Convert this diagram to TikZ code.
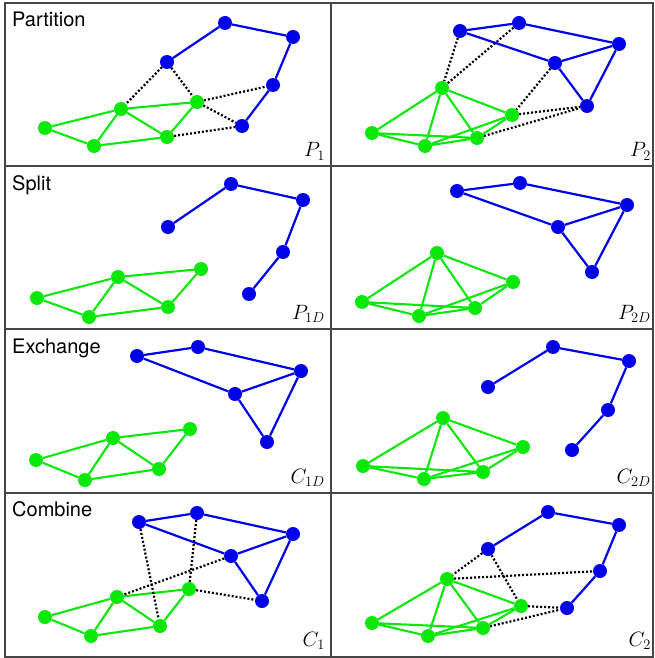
\documentclass[tikz,border=0pt]{standalone}
\usepackage{fontspec}
\usepackage{tikz}
\usetikzlibrary{positioning}
\newfontfamily\panelfont{TeX Gyre Heros}
\definecolor{partblue}{RGB}{0,0,235}
\definecolor{partgreen}{RGB}{10,232,10}
\definecolor{gridgray}{RGB}{70,70,70}

\begin{document}
\begin{tikzpicture}[
  x=1pt, y=-1pt,
  bdot/.style={circle, fill=partblue, inner sep=0pt, minimum size=14pt},
  gdot/.style={circle, fill=partgreen, inner sep=0pt, minimum size=14pt},
  bedge/.style={draw=partblue, line width=2.2pt},
  gedge/.style={draw=partgreen, line width=2.1pt},
  cut/.style={draw=black, line width=2.2pt, dash pattern=on 2pt off 2pt},
  grid line/.style={draw=gridgray, line width=1.2pt},
  title/.style={anchor=base west, inner sep=0pt, font=\panelfont\fontsize{20}{24}\selectfont},
  tag/.style={anchor=base east, inner sep=0pt, font=\fontsize{21}{25}\selectfont}
]
  \useasboundingbox (0,0) rectangle (654,658);

  % frame
  \draw[grid line] (5,3) rectangle (653,657);
  \draw[grid line] (331,3) -- (331,657);
  \draw[grid line] (5,166) -- (653,166);
  \draw[grid line] (5,329) -- (653,329);
  \draw[grid line] (5,493) -- (653,493);

  % titles and tags
  \node[title] (tpart) at (12,27) {Partition};
  \node[title] (tsplit) at (12,190) {Split};
  \node[title] (texch) at (12,353) {Exchange};
  \node[title] (tcomb) at (12,516) {Combine};
  \node[tag] (lp1) at (325,157) {$P_1$};
  \node[tag] (lp2) at (651,157) {$P_2$};
  \node[tag] (lp1d) at (325,319) {$P_{1D}$};
  \node[tag] (lp2d) at (651,319) {$P_{2D}$};
  \node[tag] (lc1d) at (325,483) {$C_{1D}$};
  \node[tag] (lc2d) at (651,483) {$C_{2D}$};
  \node[tag] (lc1) at (325,646) {$C_1$};
  \node[tag] (lc2) at (651,646) {$C_2$};

  % P1
  \node[bdot] (pab1) at (167,62) {};
  \node[bdot] (pab2) at (225,23) {};
  \node[bdot] (pab3) at (293,37) {};
  \node[bdot] (pab4) at (273,85) {};
  \node[bdot] (pab5) at (242,126) {};
  \node[gdot] (pag1) at (45,128) {};
  \node[gdot] (pag2) at (94,146) {};
  \node[gdot] (pag3) at (121,109) {};
  \node[gdot] (pag4) at (167,137) {};
  \node[gdot] (pag5) at (197,102) {};
  \draw[bedge] (pab1) -- (pab2) -- (pab3) -- (pab4) -- (pab5);
  \draw[gedge] (pag1) -- (pag3) -- (pag5) -- (pag4) -- (pag2) -- (pag1);
  \draw[gedge] (pag2) -- (pag3) -- (pag4);
  \draw[cut] (pab1) -- (pag3);
  \draw[cut] (pab1) -- (pag5);
  \draw[cut] (pag5) -- (pab4);
  \draw[cut] (pag5) -- (pab5);
  \draw[cut] (pag4) -- (pab5);

  % P2
  \node[bdot] (pbb1) at (460,31) {};
  \node[bdot] (pbb2) at (519,23) {};
  \node[bdot] (pbb3) at (619,44) {};
  \node[bdot] (pbb4) at (555,63) {};
  \node[bdot] (pbb5) at (587,106) {};
  \node[gdot] (pbg1) at (442,88) {};
  \node[gdot] (pbg2) at (512,115) {};
  \node[gdot] (pbg3) at (372,133) {};
  \node[gdot] (pbg4) at (425,146) {};
  \node[gdot] (pbg5) at (477,138) {};
  \draw[bedge] (pbb1) -- (pbb2) -- (pbb3) -- (pbb5) -- (pbb4) -- (pbb1);
  \draw[bedge] (pbb4) -- (pbb3);
  \draw[gedge] (pbg3) -- (pbg1) -- (pbg2) -- (pbg5) -- (pbg4) -- (pbg3) -- (pbg5);
  \draw[gedge] (pbg4) -- (pbg1) -- (pbg5);
  \draw[gedge] (pbg4) -- (pbg2);
  \draw[cut] (pbb1) -- (pbg1);
  \draw[cut] (pbb2) -- (pbg1);
  \draw[cut] (pbb4) -- (pbg2);
  \draw[cut] (pbg2) -- (pbb5);
  \draw[cut] (pbg5) -- (pbb5);

  % P1D
  \node[bdot] (sab1) at (168,227) {};
  \node[bdot] (sab2) at (231,184) {};
  \node[bdot] (sab3) at (303,200) {};
  \node[bdot] (sab4) at (283,252) {};
  \node[bdot] (sab5) at (249,294) {};
  \node[gdot] (sag1) at (37,298) {};
  \node[gdot] (sag2) at (89,317) {};
  \node[gdot] (sag3) at (118,277) {};
  \node[gdot] (sag4) at (168,307) {};
  \node[gdot] (sag5) at (201,269) {};
  \draw[bedge] (sab1) -- (sab2) -- (sab3) -- (sab4) -- (sab5);
  \draw[gedge] (sag1) -- (sag3) -- (sag5) -- (sag4) -- (sag2) -- (sag1);
  \draw[gedge] (sag2) -- (sag3) -- (sag4);

  % P2D
  \node[bdot] (sbb1) at (457,191) {};
  \node[bdot] (sbb2) at (520,183) {};
  \node[bdot] (sbb3) at (627,205) {};
  \node[bdot] (sbb4) at (558,227) {};
  \node[bdot] (sbb5) at (592,272) {};
  \node[gdot] (sbg1) at (437,253) {};
  \node[gdot] (sbg2) at (513,282) {};
  \node[gdot] (sbg3) at (362,302) {};
  \node[gdot] (sbg4) at (419,316) {};
  \node[gdot] (sbg5) at (475,308) {};
  \draw[bedge] (sbb1) -- (sbb2) -- (sbb3) -- (sbb5) -- (sbb4) -- (sbb1);
  \draw[bedge] (sbb4) -- (sbb3);
  \draw[gedge] (sbg3) -- (sbg1) -- (sbg2) -- (sbg5) -- (sbg4) -- (sbg3) -- (sbg5);
  \draw[gedge] (sbg4) -- (sbg1) -- (sbg5);
  \draw[gedge] (sbg4) -- (sbg2);

  % C1D
  \node[bdot] (xab1) at (137,356) {};
  \node[bdot] (xab2) at (198,347) {};
  \node[bdot] (xab3) at (301,371) {};
  \node[bdot] (xab4) at (235,394) {};
  \node[bdot] (xab5) at (267,442) {};
  \node[gdot] (xag1) at (36,460) {};
  \node[gdot] (xag2) at (85,480) {};
  \node[gdot] (xag3) at (113,438) {};
  \node[gdot] (xag4) at (159,469) {};
  \node[gdot] (xag5) at (190,429) {};
  \draw[bedge] (xab1) -- (xab2) -- (xab3) -- (xab5) -- (xab4) -- (xab1);
  \draw[bedge] (xab4) -- (xab3);
  \draw[gedge] (xag1) -- (xag3) -- (xag5) -- (xag4) -- (xag2) -- (xag1);
  \draw[gedge] (xag2) -- (xag3) -- (xag4);

  % C2D
  \node[bdot] (xbb1) at (488,387) {};
  \node[bdot] (xbb2) at (553,347) {};
  \node[bdot] (xbb3) at (629,361) {};
  \node[bdot] (xbb4) at (608,410) {};
  \node[bdot] (xbb5) at (572,450) {};
  \node[gdot] (xbg1) at (443,418) {};
  \node[gdot] (xbg2) at (523,447) {};
  \node[gdot] (xbg3) at (363,466) {};
  \node[gdot] (xbg4) at (424,479) {};
  \node[gdot] (xbg5) at (483,472) {};
  \draw[bedge] (xbb1) -- (xbb2) -- (xbb3) -- (xbb4) -- (xbb5);
  \draw[gedge] (xbg3) -- (xbg1) -- (xbg2) -- (xbg5) -- (xbg4) -- (xbg3) -- (xbg5);
  \draw[gedge] (xbg4) -- (xbg1) -- (xbg5);
  \draw[gedge] (xbg4) -- (xbg2);

  % C1
  \node[bdot] (cab1) at (139,522) {};
  \node[bdot] (cab2) at (197,513) {};
  \node[bdot] (cab3) at (293,534) {};
  \node[bdot] (cab4) at (231,556) {};
  \node[bdot] (cab5) at (262,601) {};
  \node[gdot] (cag1) at (45,617) {};
  \node[gdot] (cag2) at (91,636) {};
  \node[gdot] (cag3) at (117,597) {};
  \node[gdot] (cag4) at (160,626) {};
  \node[gdot] (cag5) at (189,589) {};
  \draw[bedge] (cab1) -- (cab2) -- (cab3) -- (cab5) -- (cab4) -- (cab1);
  \draw[bedge] (cab4) -- (cab3);
  \draw[gedge] (cag1) -- (cag3) -- (cag5) -- (cag4) -- (cag2) -- (cag1);
  \draw[gedge] (cag2) -- (cag3) -- (cag4);
  \draw[cut] (cab1) -- (cag4);
  \draw[cut] (cab2) -- (cag5);
  \draw[cut] (cab4) -- (cag3);
  \draw[cut] (cag5) -- (cab5);

  % C2
  \node[bdot] (cbb1) at (488,549) {};
  \node[bdot] (cbb2) at (548,512) {};
  \node[bdot] (cbb3) at (619,525) {};
  \node[bdot] (cbb4) at (600,571) {};
  \node[bdot] (cbb5) at (567,608) {};
  \node[gdot] (cbg1) at (447,579) {};
  \node[gdot] (cbg2) at (521,606) {};
  \node[gdot] (cbg3) at (372,623) {};
  \node[gdot] (cbg4) at (428,636) {};
  \node[gdot] (cbg5) at (483,628) {};
  \draw[bedge] (cbb1) -- (cbb2) -- (cbb3) -- (cbb4) -- (cbb5);
  \draw[gedge] (cbg3) -- (cbg1) -- (cbg2) -- (cbg5) -- (cbg4) -- (cbg3) -- (cbg5);
  \draw[gedge] (cbg4) -- (cbg1) -- (cbg5);
  \draw[gedge] (cbg4) -- (cbg2);
  \draw[cut] (cbb1) -- (cbg1);
  \draw[cut] (cbb1) -- (cbg2);
  \draw[cut] (cbg1) -- (cbb4);
  \draw[cut] (cbg2) -- (cbb5);
  \draw[cut] (cbg5) -- (cbb5);
\end{tikzpicture}
\end{document}
